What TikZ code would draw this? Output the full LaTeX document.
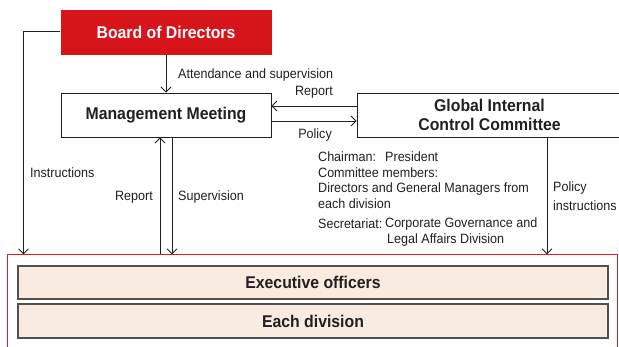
\documentclass[tikz,border=0pt]{standalone}
\usepackage{fontspec}
\setmainfont{Liberation Sans}[FakeStretch=0.93]
\usetikzlibrary{arrows.meta}
\definecolor{ink}{HTML}{231F20}
\definecolor{boardred}{HTML}{D7141A}
\definecolor{frame}{HTML}{E0201E}
\definecolor{peach}{HTML}{FAEBE1}
\definecolor{rim}{HTML}{505050}
\tikzset{
  body/.style={text=ink, font=\fontsize{13.5}{16}\selectfont},
  head/.style={text=ink, font=\fontsize{17}{19}\selectfont\bfseries, inner sep=0pt},
  whitebox/.style={head, draw=ink, line width=0.9pt, fill=white},
  boardbox/.style={head, fill=boardred, text=white},
  unitbox/.style={head, draw=rim, line width=1.4pt, fill=peach, minimum width=590pt, minimum height=33pt},
  conn/.style={draw=ink, line width=0.9pt, -{Straight Barb[length=5pt,width=10pt]}},
  lbl/.style={body, inner sep=0pt},
}
\begin{document}
\begin{tikzpicture}[x=1pt,y=1pt]
\useasboundingbox (0,0) rectangle (619,347);
\fill[white] (0,0) rectangle (619,347);

% upper governance boxes
\node[boardbox, minimum width=211pt, minimum height=45pt] (board) at (166,314.5) {Board of Directors};
\node[whitebox, minimum width=210pt, minimum height=44pt] (mm) at (166,232) {Management Meeting};
\node[whitebox, minimum width=265pt, minimum height=44pt, align=center] (gicc) at (489.5,232) {Global Internal\\Control Committee};

% operating units inside the red frame
\node[draw=frame, line width=1pt, minimum width=610pt, minimum height=102pt, inner sep=0pt] (outer) at (312,41) {};
\node[unitbox] (exec) at (313,64.5) {Executive officers};
\node[unitbox, minimum height=34pt] (div) at (313,26) {Each division};

% connectors
\draw[conn] (board.south) -- (mm.north);
\draw[conn] ([yshift=9pt]gicc.west) -- ([yshift=9pt]mm.east);
\draw[conn] ([yshift=-6pt]mm.east) -- ([yshift=-6pt]gicc.west);
\coordinate (instrEnd) at ([xshift=17pt]outer.north west);
\draw[conn] ([yshift=1.5pt]board.west) -| (instrEnd);
\draw[conn] ([xshift=-6pt]mm.south |- outer.north) -- ([xshift=-6pt]mm.south);
\draw[conn] ([xshift=6pt]mm.south) -- ([xshift=6pt]mm.south |- outer.north);
\draw[conn] ([xshift=57.5pt]gicc.south) -- ([xshift=57.5pt]gicc.south |- outer.north);

% connector labels
\node[lbl, anchor=west] (lAtt) at (178,272) {Attendance and supervision};
\node[lbl, anchor=east] (lRep1) at (333,255) {Report};
\node[lbl, anchor=east] (lPol) at (332,212) {Policy};
\node[lbl, anchor=west] (lIns) at (30,174) {Instructions};
\node[lbl, anchor=east] (lRep2) at (153,150) {Report};
\node[lbl, anchor=west] (lSup) at (178,150) {Supervision};
\node[lbl, anchor=west, align=left, font=\fontsize{13.5}{19}\selectfont] (lPolIns) at (553,150.5) {Policy\\instructions};

% committee composition
\node[lbl, anchor=west] (c1) at (318,190) {Chairman:};
\node[lbl, anchor=west] (c1b) at (385,190) {President};
\node[lbl, anchor=west] (c2) at (318,174) {Committee members:};
\node[lbl, anchor=west] (c3) at (318,158) {Directors and General Managers from};
\node[lbl, anchor=west] (c4) at (318,143) {each division};
\node[lbl, anchor=west] (c5) at (318,123) {Secretariat:};
\node[lbl, anchor=west] (c5b) at (385,123) {Corporate Governance and};
\node[lbl, anchor=west] (c6) at (387,107) {Legal Affairs Division};
\end{tikzpicture}
\end{document}
